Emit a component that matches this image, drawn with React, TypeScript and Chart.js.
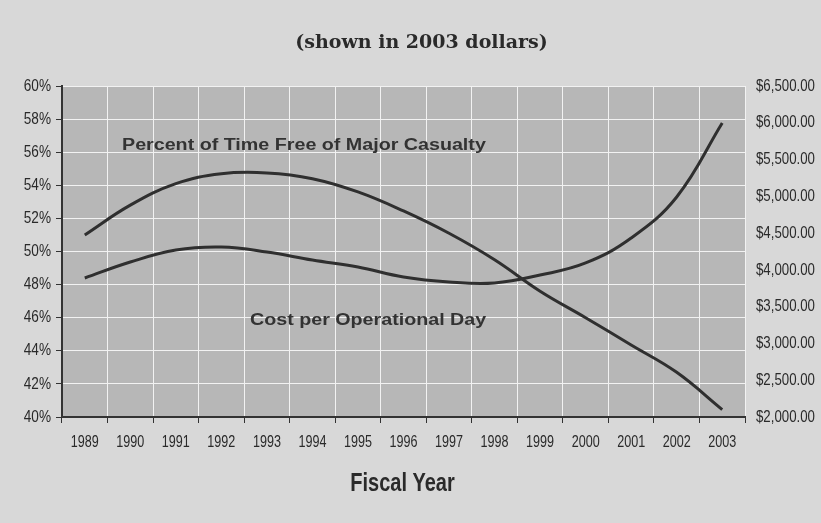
import React, { useEffect, useRef } from "react";
import { Chart, registerables } from "chart.js";

Chart.register(...registerables);

const years = ["1989","1990","1991","1992","1993","1994","1995","1996","1997","1998","1999","2000","2001","2002","2003"];
const percentFree = [51.0, 52.8, 54.1, 54.7, 54.75, 54.4, 53.6, 52.45, 51.1, 49.5, 47.6, 46.0, 44.35, 42.7, 40.45];
const costPerDay = [3890, 4107, 4270, 4311, 4243, 4134, 4039, 3903, 3835, 3822, 3930, 4094, 4433, 4991, 5997];

const titleText = "(shown in 2003 dollars)";
const xTitleText = "Fiscal Year";
const percentLabel = "Percent of Time Free of Major Casualty";
const costLabel = "Cost per Operational Day";

const pctFmt = (v: number) => v + "%";
const usdFmt = (v: number) =>
  "$" + Number(v).toLocaleString("en-US", { minimumFractionDigits: 2, maximumFractionDigits: 2 });

const SANS = '"Liberation Sans", Arial, sans-serif';

function drawText(ctx: any, text: string, x: number, y: number, font: string, align: string, sx: number, color: string) {
  ctx.save();
  ctx.font = font;
  ctx.fillStyle = color;
  ctx.textBaseline = "middle";
  ctx.textAlign = align;
  ctx.translate(x, y);
  ctx.scale(sx, 1);
  ctx.fillText(text, 0, 0);
  ctx.restore();
}

export default function App() {
  const ref = useRef<HTMLCanvasElement | null>(null);
  useEffect(() => {
    document.body.style.margin = "0";
    const canvas = ref.current!;
    const decor = {
      id: "decor",
      beforeDraw(chart: any) {
        const { ctx, chartArea: a, width, height } = chart;
        ctx.save();
        ctx.fillStyle = "#d8d8d8";
        ctx.fillRect(0, 0, width, height);
        ctx.fillStyle = "#b7b7b7";
        ctx.fillRect(a.left, a.top, a.right - a.left, a.bottom - a.top);
        ctx.restore();
      },
      afterDraw(chart: any) {
        const { ctx, chartArea: a, scales } = chart;
        const tickColor = "#2a2a2a";
        years.forEach((yr, i) => {
          drawText(ctx, yr, scales.x.getPixelForValue(i), a.bottom + 25, "17px " + SANS, "center", 0.74, tickColor);
        });
        scales.y.ticks.forEach((t: any) => {
          drawText(ctx, pctFmt(t.value), a.left - 11, scales.y.getPixelForValue(t.value), "17px " + SANS, "right", 0.8, tickColor);
        });
        scales.y1.ticks.forEach((t: any) => {
          drawText(ctx, usdFmt(t.value), a.right + 11, scales.y1.getPixelForValue(t.value), "17px " + SANS, "left", 0.78, tickColor);
        });
        const cx = (a.left + a.right) / 2;
        drawText(ctx, titleText, cx + 18, a.top - 43, 'bold 19px "DejaVu Serif", "Liberation Serif", serif', "center", 1, "#2a2a2a");
        drawText(ctx, xTitleText, cx - 1, a.bottom + 67, "bold 25px " + SANS, "center", 0.8, "#2a2a2a");
        drawText(ctx, percentLabel, a.left + 60, a.top + 60, "bold 16px " + SANS, "left", 1.23, "#333333");
        drawText(ctx, costLabel, a.left + 188, a.top + 235, "bold 16px " + SANS, "left", 1.23, "#333333");
      },
    };
    const chart = new Chart(canvas, {
      type: "line",
      data: {
        labels: years,
        datasets: [
          {
            label: percentLabel,
            data: percentFree,
            yAxisID: "y",
            borderColor: "#2f2f2f",
            borderWidth: 3,
            pointRadius: 0,
            tension: 0.4,
            fill: false,
          },
          {
            label: costLabel,
            data: costPerDay,
            yAxisID: "y1",
            borderColor: "#2f2f2f",
            borderWidth: 3,
            pointRadius: 0,
            tension: 0.4,
            fill: false,
          },
        ],
      },
      options: {
        responsive: false,
        animation: false,
        layout: { padding: { top: 86, left: 0, right: 0, bottom: 0 } },
        plugins: { legend: { display: false }, title: { display: false }, tooltip: { enabled: false } },
        scales: {
          x: {
            offset: true,
            grid: { offset: true, color: "#f2f2f2", lineWidth: 1, tickColor: "#333333", tickLength: 6 },
            border: { color: "#333333", width: 2 },
            ticks: { display: false, autoSkip: false },
            afterFit(s: any) { s.height = 106; },
          },
          y: {
            position: "left",
            min: 40,
            max: 60,
            ticks: { stepSize: 2, display: false, callback: (v: any) => pctFmt(v) },
            grid: { color: "#f2f2f2", lineWidth: 1, tickColor: "#333333", tickLength: 6 },
            border: { color: "#333333", width: 2 },
            afterFit(s: any) { s.width = 62; },
          },
          y1: {
            position: "right",
            min: 2000,
            max: 6500,
            ticks: { stepSize: 500, display: false, callback: (v: any) => usdFmt(v) },
            grid: { display: false },
            border: { display: false },
            afterFit(s: any) { s.width = 76; },
          },
        },
      },
      plugins: [decor],
    });
    return () => chart.destroy();
  }, []);
  return (
    <div style={{ width: 821, height: 523 }}>
      <canvas ref={ref} width={821} height={523} />
    </div>
  );
}
